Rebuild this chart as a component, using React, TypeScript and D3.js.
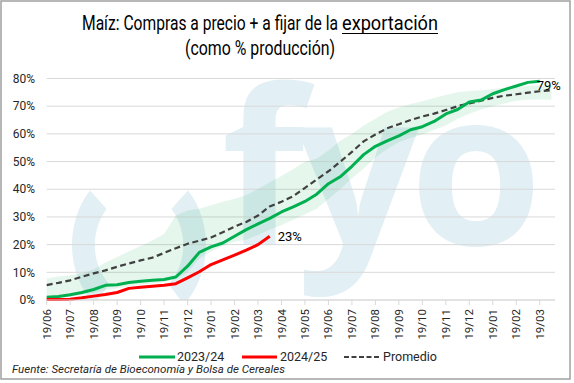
import React from 'react';
import * as d3 from 'd3';

// ---- data ----
const tickLabels = [
  '19/06', '19/07', '19/08', '19/09', '19/10', '19/11', '19/12', '19/01', '19/02', '19/03', '19/04',
  '19/05', '19/06', '19/07', '19/08', '19/09', '19/10', '19/11', '19/12', '19/01', '19/02', '19/03',
];
const yTicks = [0, 10, 20, 30, 40, 50, 60, 70, 80];
const stepMonths = 0.5; // samples every half month, starting at the first tick

const serie2324 = [
  1.0, 1.3, 1.9, 2.7, 3.8, 5.3, 5.5, 6.3, 6.8, 7.1, 7.4, 8.3, 12.2, 17.2, 19.2, 20.6, 23.0, 25.4, 27.5, 29.5,
  31.8, 33.6, 35.6, 38.2, 42.0, 44.5, 48.3, 52.5, 55.5, 57.5, 59.3, 61.5, 62.6, 64.5, 67.2, 68.8, 71.5, 72.2,
  74.5, 76.0, 77.3, 78.6, 79.0,
];
const serie2425 = [
  0.2, 0.2, 0.3, 0.8, 1.4, 2.0, 2.7, 4.2, 4.6, 5.0, 5.3, 5.9, 8.0, 10.2, 12.8, 14.5, 16.2, 18.0, 20.0, 23.0,
];
const promedio = [
  5.4, 6.2, 7.1, 8.4, 9.6, 10.7, 12.0, 13.2, 14.3, 15.3, 17.0, 18.7, 20.3, 21.4, 22.6, 24.5, 26.5, 28.2, 30.5,
  33.8, 35.5, 37.5, 40.5, 43.5, 46.5, 49.9, 53.5, 57.3, 59.8, 62.0, 63.5, 65.0, 66.3, 67.3, 68.6, 70.0, 71.0,
  72.0, 73.0, 73.8, 74.3, 74.9, 75.4, 75.8,
];
const rangoMax = [
  7.8, 8.5, 8.9, 9.7, 11.0, 13.5, 15.5, 17.6, 19.5, 21.5, 23.8, 30.5, 32.3, 33.0, 34.2, 35.5, 36.6, 37.9, 40.1,
  42.5, 44.8, 47.3, 49.9, 51.0, 54.0, 57.5, 60.0, 63.0, 65.5, 68.0, 69.5, 70.8, 71.8, 73.0, 74.0, 75.0, 75.5,
  75.8, 76.2, 76.7, 77.0, 77.3, 77.5, 77.6,
];
const rangoMin = [
  0.5, 0.8, 1.2, 1.8, 2.5, 3.5, 4.2, 5.0, 5.5, 6.0, 6.5, 7.5, 10.0, 15.0, 17.5, 19.5, 21.0, 21.8, 23.5, 25.5,
  27.0, 29.0, 31.0, 33.0, 36.5, 40.0, 44.0, 47.5, 51.5, 54.5, 57.0, 58.5, 59.8, 61.5, 63.0, 65.5, 67.3, 68.8,
  70.0, 71.0, 72.0, 72.3, 72.4, 72.4,
];
const legendItems = ['2023/24', '2024/25', 'Promedio'];
const watermarkLetters = ['f', 'y', 'o'];

// ---- layout ----
const W = 574;
const H = 383;
const PL = 46.7;
const PR = 555;
const PT = 78.5;
const PB = 300;

const GREEN = '#00B050';
const RED = '#FF0000';
const DASH = '#404040';
const WM = '#E2EFF4';
const FONT = 'Roboto, "Open Sans", sans-serif';

export default function App() {
  const x = d3.scaleLinear().domain([0, 21.65]).range([PL, PR]);
  const y = d3.scaleLinear().domain([0, 80]).range([PB, PT]);
  const tx = (i: number) => x(i * stepMonths);

  const line = d3.line<number>().x((_, i) => tx(i)).y((d) => y(d));
  const band = d3
    .area<number>()
    .x((_, i) => tx(i))
    .y0((_, i) => y(rangoMin[i]))
    .y1((d) => y(d));

  const arc = d3.arc<any>();
  const leftParen = arc({ innerRadius: 0.66, outerRadius: 1, startAngle: (222 * Math.PI) / 180, endAngle: (313 * Math.PI) / 180 });
  const rightParen = arc({ innerRadius: 0.66, outerRadius: 1, startAngle: (47 * Math.PI) / 180, endAngle: (138 * Math.PI) / 180 });

  const lastG = serie2324.length - 1;
  const lastR = serie2425.length - 1;
  const wmX = [263, 358, 476];

  return (
    <svg width={W} height={H} style={{ position: 'absolute', left: 0, top: 0, background: '#fff' }} fontFamily={FONT}>
      <rect x={0} y={0} width={W} height={H} fill="#fff" />
      <defs>
        <clipPath id="plotClip">
          <rect x={PL} y={PT - 4} width={PR - PL} height={PB - PT + 4} />
        </clipPath>
      </defs>

      {/* watermark */}
      <g clipPath="url(#plotClip)" fill={WM}>
        <path d={leftParen || ''} transform="translate(139,245) scale(67,80)" />
        <path d={rightParen || ''} transform="translate(139,245) scale(67,80)" />
        {watermarkLetters.map((l, i) => (
          <text key={l} x={wmX[i]} y={245} fontSize={215} fontWeight={700} textAnchor="middle" fontFamily='"Open Sans", sans-serif'>
            {l}
          </text>
        ))}
      </g>

      {/* gridlines */}
      {yTicks.map((t) => (
        <line key={t} x1={PL} x2={PR} y1={y(t)} y2={y(t)} stroke="#D9D9D9" strokeWidth={1} />
      ))}

      {/* band */}
      <path d={band(rangoMax) || ''} fill="rgba(0,170,75,0.1)" />

      {/* series */}
      <path d={line(promedio) || ''} fill="none" stroke={DASH} strokeWidth={2.2} strokeDasharray="6,3.5" />
      <path d={line(serie2324) || ''} fill="none" stroke={GREEN} strokeWidth={3} strokeLinejoin="round" />
      <path d={line(serie2425) || ''} fill="none" stroke={RED} strokeWidth={3} strokeLinejoin="round" />

      {/* end labels */}
      <text x={tx(lastR) + 8} y={y(serie2425[lastR])} dy="0.35em" fontSize={13} fill="#000">
        {`${Math.round(serie2425[lastR])}%`}
      </text>
      <text x={tx(lastG) - 3} y={y(serie2324[lastG]) + 4} dy="0.35em" fontSize={13} fill="#000">
        {`${Math.round(serie2324[lastG])}%`}
      </text>

      {/* y axis labels */}
      {yTicks.map((t) => (
        <text key={t} x={35} y={y(t)} dy="0.35em" textAnchor="end" fontSize={12} fill="#262626">
          {`${t}%`}
        </text>
      ))}

      {/* x axis */}
      <line x1={PL} x2={PR} y1={PB} y2={PB} stroke="#D9D9D9" />
      {tickLabels.map((lab, i) => (
        <g key={i} transform={`translate(${x(i)},${PB})`}>
          <line y1={0} y2={5} stroke="#D9D9D9" />
          <text transform="translate(0,9) rotate(-90)" textAnchor="end" dy="0.35em" fontSize={11.5} fill="#262626">
            {lab}
          </text>
        </g>
      ))}

      {/* title */}
      <text x={82} y={30} fontSize={21} fill="#000" textLength={256} lengthAdjust="spacingAndGlyphs">
        Maíz: Compras a precio + a fijar de la
      </text>
      <text x={342} y={30} fontSize={21} fill="#000" textLength={96} lengthAdjust="spacingAndGlyphs">
        exportación
      </text>
      <line x1={342} x2={438} y1={33.5} y2={33.5} stroke="#000" strokeWidth={1.2} />
      <text x={260} y={55} textAnchor="middle" fontSize={21} fill="#000" textLength={150} lengthAdjust="spacingAndGlyphs">
        (como % producción)
      </text>

      {/* legend */}
      <line x1={139} x2={175} y1={357} y2={357} stroke={GREEN} strokeWidth={3} />
      <text x={177} y={357} dy="0.35em" fontSize={12.5} fill="#262626">{legendItems[0]}</text>
      <line x1={242} x2={277} y1={357} y2={357} stroke={RED} strokeWidth={3} />
      <text x={280} y={357} dy="0.35em" fontSize={12.5} fill="#262626">{legendItems[1]}</text>
      <line x1={344} x2={380} y1={357} y2={357} stroke={DASH} strokeWidth={2} strokeDasharray="5,2.5" />
      <text x={383} y={357} dy="0.35em" fontSize={12.5} fill="#262626">{legendItems[2]}</text>

      {/* source */}
      <text x={12} y={373} fontSize={11.5} fontStyle="italic" fill="#262626" textLength={273} lengthAdjust="spacingAndGlyphs">
        Fuente: Secretaría de Bioeconomía y Bolsa de Cereales
      </text>

      {/* border */}
      <rect x={1} y={1} width={569} height={378} fill="none" stroke="#A0A0A0" strokeWidth={1.5} />
    </svg>
  );
}
